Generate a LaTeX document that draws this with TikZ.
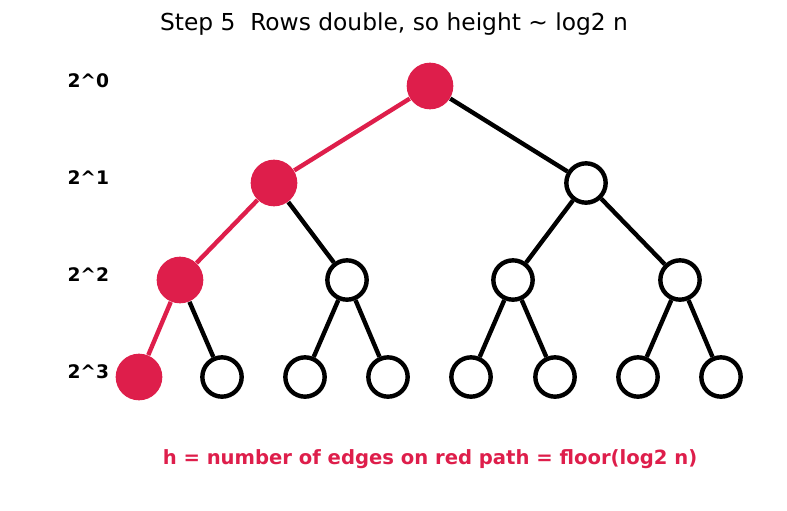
\documentclass[tikz,border=0pt]{standalone}
\usepackage{fontspec}
\setmainfont{DejaVu Sans}
\definecolor{pathred}{RGB}{222,30,75}
\tikzset{every picture/.style={line width=0.75pt}}
\tikzset{
  plain/.style={circle,draw=black,fill=white,line width=3.3pt,inner sep=0pt,minimum size=29.5pt},
  onpath/.style={circle,fill=pathred,inner sep=0pt,minimum size=35pt},
  edge/.style={draw=black,line width=3.3pt},
  redge/.style={draw=pathred,line width=3.3pt},
  lvl/.style={anchor=west,inner sep=0pt,font=\fontsize{14}{16}\selectfont\bfseries}
}
\begin{document}
\begin{tikzpicture}[x=0.75pt,y=0.75pt,yscale=-1,xscale=1]
\useasboundingbox (0,0) rectangle (787,510);

% Title
\node (title) at (394,24) {\fontsize{17.5}{21}\selectfont Step 5\ \ Rows double, so height \char`\~{} log2 n};

% Level labels
\node [lvl] (l0) at (67,81) {2\char`\^0};
\node [lvl] (l1) at (67,178) {2\char`\^1};
\node [lvl] (l2) at (67,275) {2\char`\^2};
\node [lvl] (l3) at (67,372) {2\char`\^3};

% Nodes
\node [onpath] (n0) at (430,86) {};
\node [onpath] (n1a) at (274,183) {};
\node [plain] (n1b) at (586,183) {};
\node [onpath] (n2a) at (180,280) {};
\node [plain] (n2b) at (347,280) {};
\node [plain] (n2c) at (513,280) {};
\node [plain] (n2d) at (680,280) {};
\node [onpath] (n3a) at (139,377) {};
\node [plain] (n3b) at (222,377) {};
\node [plain] (n3c) at (305,377) {};
\node [plain] (n3d) at (388,377) {};
\node [plain] (n3e) at (471,377) {};
\node [plain] (n3f) at (555,377) {};
\node [plain] (n3g) at (638,377) {};
\node [plain] (n3h) at (721,377) {};

% Edges
\path [redge] (n0) -- (n1a);
\path [edge] (n0) -- (n1b);
\path [redge] (n1a) -- (n2a);
\path [edge] (n1a) -- (n2b);
\path [edge] (n1b) -- (n2c);
\path [edge] (n1b) -- (n2d);
\path [redge] (n2a) -- (n3a);
\path [edge] (n2a) -- (n3b);
\path [edge] (n2b) -- (n3c);
\path [edge] (n2b) -- (n3d);
\path [edge] (n2c) -- (n3e);
\path [edge] (n2c) -- (n3f);
\path [edge] (n2d) -- (n3g);
\path [edge] (n2d) -- (n3h);

% Note
\node [text=pathred,font=\fontsize{14.7}{18}\selectfont\bfseries] (note) at (430,459) {h = number of edges on red path = floor(log2 n)};

\end{tikzpicture}
\end{document}
